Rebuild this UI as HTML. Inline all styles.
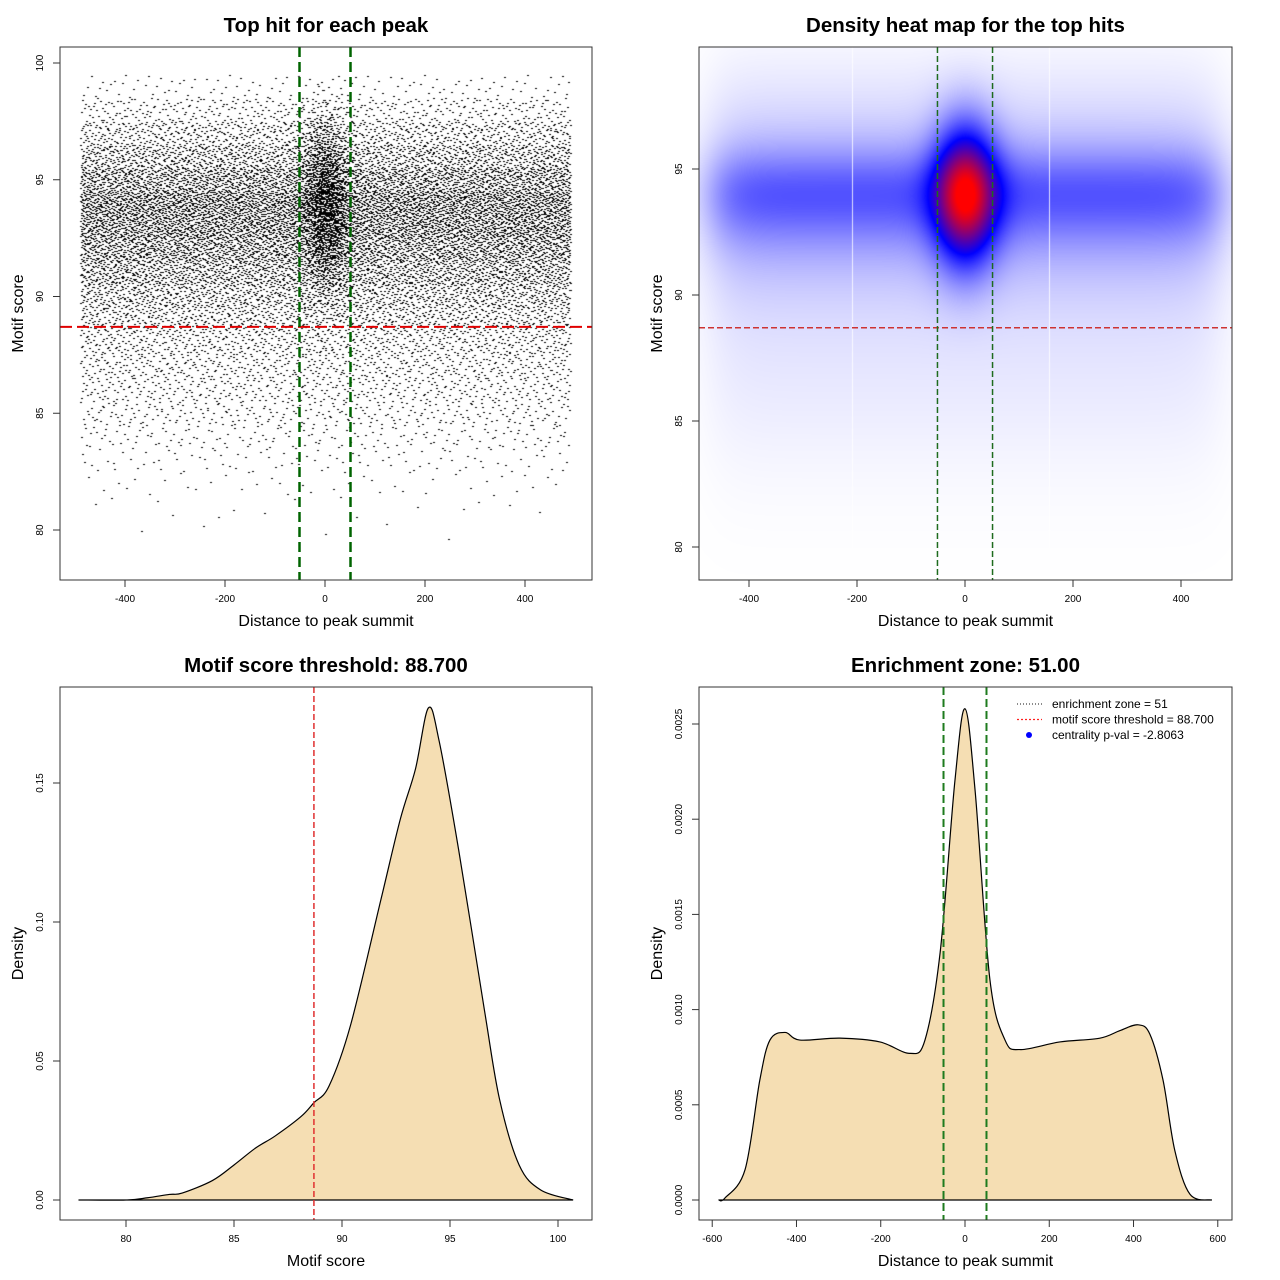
<!DOCTYPE html>
<html><head><meta charset="utf-8">
<style>
html,body{margin:0;padding:0;background:#fff;}
#wrap{position:relative;width:1280px;height:1280px;overflow:hidden;font-family:"Liberation Sans",sans-serif;}
canvas,svg{position:absolute;left:0;top:0;}
</style></head>
<body>
<div id="wrap">
<canvas id="cv" width="1280" height="1280"></canvas>
<svg id="sv" width="1280" height="1280" xmlns="http://www.w3.org/2000/svg"></svg>
</div>
<script>
// ---- data ----
const scoreBins = [80,81,82,83,84,85,86,87,88,89,90,91,92,93,94,95,96,97,98,99];
const scoreBinCounts = [5,15,40,90,170,280,380,480,600,800,1050,1400,1800,2200,2300,1800,1200,750,380,120];
const centralCount = 1500;
const centralMean = 94;
const scoreDensX = [77.8,80,81,82,82.6,84,85,86,86.9,88.1,88.7,89.4,90.4,91.8,92.7,93.4,94,94.5,95.4,96.6,97.3,98.2,99.2,100.7];
const scoreDensY = [0,0,0.0008,0.002,0.0025,0.007,0.0126,0.0187,0.023,0.03,0.035,0.041,0.063,0.108,0.137,0.155,0.177,0.165,0.126,0.068,0.036,0.0126,0.0036,0];
const distDensX = [-585,-570,-522,-487,-463,-427,-392,-297,-202,-131,-95,-59,-24,0,24,59,95,131,225,320,368,411,439,470,498,534,586];
const distDensY = [0,0.00001,0.00016,0.00063,0.00084,0.00088,0.00084,0.00085,0.00083,0.00077,0.00084,0.0013,0.0022,0.00258,0.00215,0.00116,0.00084,0.00079,0.00083,0.00085,0.00089,0.00092,0.00087,0.00063,0.00026,0.00003,0];
const zone = 51, threshold = 88.7;
const legendLabels = ["enrichment zone = 51","motif score threshold = 88.700","centrality p-val = -2.8063"];

// ---- scales ----
const P = [
 {x0:60,y0:47,x1:592,y1:580, xs:v=>325+0.5*v, ys:v=>63+(100-v)*23.35,
  xt:[-400,-200,0,200,400], yt:[80,85,90,95,100], ytl:["80","85","90","95","100"],
  title:"Top hit for each peak", xl:"Distance to peak summit", yl:"Motif score", n:"scatter"},
 {x0:699,y0:47,x1:1232,y1:580, xs:v=>965+0.54*v, ys:v=>547-(v-80)*25.2,
  xt:[-400,-200,0,200,400], yt:[80,85,90,95], ytl:["80","85","90","95"],
  title:"Density heat map for the top hits", xl:"Distance to peak summit", yl:"Motif score", n:"heatmap"},
 {x0:60,y0:687,x1:592,y1:1220, xs:v=>126+(v-80)*21.6, ys:v=>1200-v*2780,
  xt:[80,85,90,95,100], yt:[0,0.05,0.1,0.15], ytl:["0.00","0.05","0.10","0.15"],
  title:"Motif score threshold: 88.700", xl:"Motif score", yl:"Density", n:"score-density"},
 {x0:699,y0:687,x1:1232,y1:1220, xs:v=>965+v*0.4213, ys:v=>1200-v*190400,
  xt:[-600,-400,-200,0,200,400,600], yt:[0,0.0005,0.001,0.0015,0.002,0.0025], ytl:["0.0000","0.0005","0.0010","0.0015","0.0020","0.0025"],
  title:"Enrichment zone: 51.00", xl:"Distance to peak summit", yl:"Density", n:"distance-density"}
];
const NS="http://www.w3.org/2000/svg";
const sv=document.getElementById('sv');
function mk(tag,attrs,parent){const e=document.createElementNS(NS,tag);for(const k in attrs)e.setAttribute(k,attrs[k]);(parent||sv).appendChild(e);return e;}
function txt(s,attrs,name){const e=mk('text',attrs);e.textContent=s;


return e;}

// ---- canvas: scatter + heatmap ----
const cv=document.getElementById('cv');const ctx=cv.getContext('2d');
function halton(i,b){let f=1,r=0;while(i>0){f/=b;r+=f*(i%b);i=Math.floor(i/b);}return r;}
(function(){
 const p=P[0];ctx.fillStyle='#000';let k=1;
 for(let b=0;b<scoreBins.length;b++){
  for(let j=0;j<scoreBinCounts[b];j++){
   const x=-490+980*halton(k,2), y=scoreBins[b]-0.5+halton(k,3);k++;
   ctx.fillRect(Math.round(p.xs(x)),Math.round(p.ys(y)),2,1);
  }
 }
 for(let j=1;j<=centralCount;j++){
  const u1=halton(j+5000,5)||0.5,u2=halton(j+5000,7);
  const r=Math.sqrt(-2*Math.log(u1));
  const x=r*Math.cos(2*Math.PI*u2)*25, y=centralMean+r*Math.sin(2*Math.PI*u2)*1.9;
  if(y>99.8)continue;
  ctx.fillRect(Math.round(p.xs(x)),Math.round(p.ys(y)),2,1);
 }
})();
(function(){
 const p=P[1];
 function B(y){let s=0;for(let i=0;i<scoreBins.length;i++){const d=(y-scoreBins[i])/0.9;s+=scoreBinCounts[i]*Math.exp(-d*d/2);}return s;}
 let Bm=0;for(let y=78;y<100;y+=0.1)Bm=Math.max(Bm,B(y));
 const img=ctx.createImageData(p.x1-p.x0,p.y1-p.y0);
 for(let py=p.y0;py<p.y1;py++){
  const y=80+(547-py)/25.2; const bb0=B(y-0.4)/Bm;
  for(let px=p.x0;px<p.x1;px++){
   const x=(px-965)/0.54;
   const ex=1/(1+Math.exp((Math.abs(x)-470)/25));
   const g=Math.exp(-((x/40)**2)/2-(((y-centralMean)/1.9)**2)/2);
   let t=(0.22*Math.pow(bb0,3)+0.12*Math.pow(bb0,0.6))*ex+0.72*g; t=Math.min(1,t);
   let r,gg,bb;
   if(t<0.5){const s=t/0.5;r=255*(1-s);gg=255*(1-s);bb=255;}
   else{const s=(t-0.5)/0.5;r=255*s;gg=0;bb=255*(1-s);}
   const i=((py-p.y0)*(p.x1-p.x0)+(px-p.x0))*4;
   img.data[i]=r;img.data[i+1]=gg;img.data[i+2]=bb;img.data[i+3]=255;
  }
 }
 ctx.putImageData(img,p.x0,p.y0);
 ctx.fillStyle='rgba(255,255,255,0.8)';
 ctx.fillRect(Math.round(p.xs(-210)),p.y0,1,p.y1-p.y0);
 ctx.fillRect(Math.round(p.xs(155)),p.y0,1,p.y1-p.y0);
})();

// ---- density curves ----
function smoothPath(xs,ys,p){
 const pts=xs.map((x,i)=>[p.xs(x),p.ys(ys[i])]);
 let d=`M${pts[0][0]},${pts[0][1]}`;
 for(let i=0;i<pts.length-1;i++){
  const p0=pts[Math.max(0,i-1)],p1=pts[i],p2=pts[i+1],p3=pts[Math.min(pts.length-1,i+2)];
  const c1=[p1[0]+(p2[0]-p0[0])/6,p1[1]+(p2[1]-p0[1])/6];
  const c2=[p2[0]-(p3[0]-p1[0])/6,p2[1]-(p3[1]-p1[1])/6];
  d+=` C${c1[0]},${c1[1]} ${c2[0]},${c2[1]} ${p2[0]},${p2[1]}`;
 }
 return d;
}
let e;
e=mk('path',{d:smoothPath(scoreDensX,scoreDensY,P[2])+'Z',fill:'#f5deb3',stroke:'#000','stroke-width':1.2});


e=mk('path',{d:smoothPath(distDensX,distDensY,P[3])+'Z',fill:'#f5deb3',stroke:'#000','stroke-width':1.2});



// ---- reference lines ----
function vline(p,v,col,w,dash,name){const l=mk('line',{x1:p.xs(v),x2:p.xs(v),y1:p.y0,y2:p.y1,stroke:col,'stroke-width':w,'stroke-dasharray':dash});

}
function hline(p,v,col,w,dash,name){const l=mk('line',{x1:p.x0,x2:p.x1,y1:p.ys(v),y2:p.ys(v),stroke:col,'stroke-width':w,'stroke-dasharray':dash});

}
hline(P[0],threshold,'#e00000',2,'12,5','threshold-line');
vline(P[0],-zone,'#006400',2.5,'10,5','zone-left-line');
vline(P[0],zone,'#006400',2.5,'10,5','zone-right-line');
hline(P[1],threshold,'#cd3333',1.5,'6,3','threshold-line');
vline(P[1],-zone,'#1e6b1e',1.5,'6,3','zone-left-line');
vline(P[1],zone,'#1e6b1e',1.5,'6,3','zone-right-line');
vline(P[2],threshold,'#e03030',1.5,'6,3','threshold-line');
vline(P[3],-zone,'#1e7b1e',2,'8,4','zone-left-line');
vline(P[3],zone,'#1e7b1e',2,'8,4','zone-right-line');

// ---- axes ----
P.forEach((p,idx)=>{
 const r=mk('rect',{x:p.x0,y:p.y0,width:p.x1-p.x0,height:p.y1-p.y0,fill:'none',stroke:'#333','stroke-width':1});
 
 
 const xa=mk('line',{x1:p.xs(p.xt[0]),x2:p.xs(p.xt[p.xt.length-1]),y1:p.y1,y2:p.y1,stroke:'#333'});
 
 
 p.xt.forEach(v=>{const x=p.xs(v);mk('line',{x1:x,x2:x,y1:p.y1,y2:p.y1+7,stroke:'#333'});
  txt(String(v),{x:x,y:p.y1+22,'font-size':10,'text-anchor':'middle',fill:'#000'},'x-tick-label');});
 const ya=mk('line',{x1:p.x0,x2:p.x0,y1:p.ys(p.yt[0]),y2:p.ys(p.yt[p.yt.length-1]),stroke:'#333'});
 
 
 p.yt.forEach((v,i)=>{const y=p.ys(v);mk('line',{x1:p.x0-7,x2:p.x0,y1:y,y2:y,stroke:'#333'});
  txt(p.ytl[i],{x:p.x0-17,y:y,'font-size':10,'text-anchor':'middle',fill:'#000',transform:`rotate(-90 ${p.x0-17} ${y})`},'y-tick-label');});
 const cx=(p.x0+p.x1)/2, cy=(p.y0+p.y1)/2;
 txt(p.title,{x:cx,y:p.y0-15,'font-size':20.5,'font-weight':'bold','text-anchor':'middle',fill:'#000'},p.n+'-title');
 txt(p.xl,{x:cx,y:p.y1+46,'font-size':16,'text-anchor':'middle',fill:'#000'},p.n+'-x-axis-title');
 txt(p.yl,{x:p.x0-37,y:cy,'font-size':16,'text-anchor':'middle',fill:'#000',transform:`rotate(-90 ${p.x0-37} ${cy})`},p.n+'-y-axis-title');
});

// ---- legend ----
const lg=[['#444','1,2'],['#ff2020','2,2'],['#0000ff','']];
lg.forEach((s,i)=>{const y=704+i*15.5;
 if(i<2){const l=mk('line',{x1:1017,x2:1042,y1:y,y2:y,stroke:s[0],'stroke-width':1.2,'stroke-dasharray':s[1]});
  
  }
 else{const c=mk('circle',{cx:1029,cy:y,r:3,fill:s[0]});
  
  }
 txt(legendLabels[i],{x:1052,y:y+4,'font-size':12,fill:'#000'},'legend-entry');
});
</script>
</body></html>
